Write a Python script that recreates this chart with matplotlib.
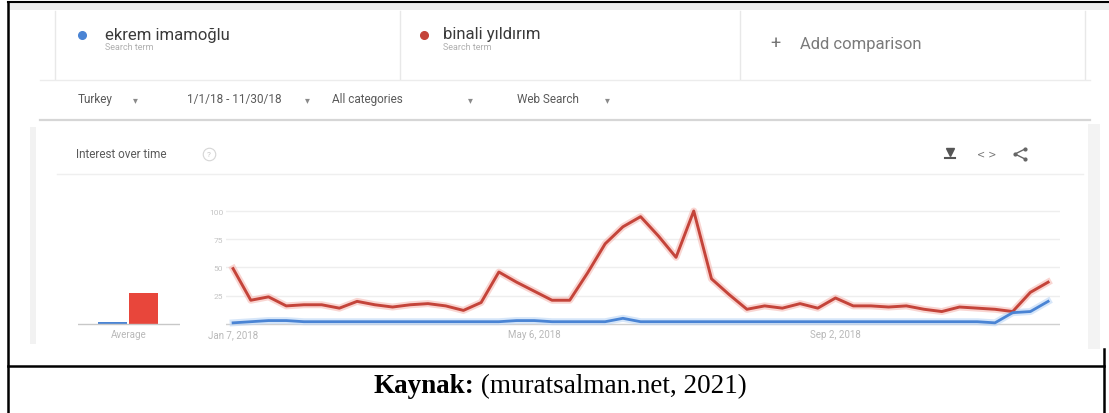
import matplotlib.pyplot as plt
import pandas as pd

# weekly Google Trends values, Turkey, 2018
weeks = pd.date_range("2018-01-07", periods=47, freq="7D")
binali = [49, 21, 24, 16, 17, 17, 14, 20, 17, 15, 17, 18, 16, 12, 19, 46,
          37, 29, 21, 21, 45, 71, 86, 95, 78, 59, 100, 40, 26, 13, 16, 14,
          18, 14, 23, 16, 16, 15, 16, 13, 11, 15, 14, 13, 11, 28, 37]
ekrem = [1, 2, 3, 3, 2, 2, 2, 2, 2, 2, 2, 2, 2, 2, 2, 2, 3, 3, 2, 2, 2, 2,
         5, 2, 2, 2, 2, 2, 2, 2, 2, 2, 2, 2, 2, 2, 2, 2, 2, 2, 2, 2, 2, 1,
         10, 11, 20]
avg_values = [2, 27]
terms = ["ekrem imamoğlu", "binali yıldırım"]
y_ticks = [25, 50, 75, 100]
date_ticks = pd.to_datetime(["2018-01-07", "2018-05-06", "2018-09-02"])
date_labels = ["Jan 7, 2018", "May 6, 2018", "Sep 2, 2018"]
filters = ["Turkey", "1/1/18 - 11/30/18", "All categories", "Web Search"]

RED = "#c4443a"
BLUE = "#4a84d4"

W, H = 1109, 414
fig = plt.figure(figsize=(W / 100, H / 100), dpi=100)
plt.rcParams["font.family"] = ["Roboto", "DejaVu Sans"]


def px_axes(x0, y0, x1, y1):
    return fig.add_axes([x0 / W, 1 - y1 / H, (x1 - x0) / W, (y1 - y0) / H])


bg = px_axes(0, 0, W, H)
bg.set_xlim(0, W)
bg.set_ylim(H, 0)
bg.axis("off")

# screenshot frame bits
bg.axhspan(3, 11, xmin=8 / W, xmax=1, color="#ededed", lw=0)
for x in [55, 400, 740, 1085]:
    bg.plot([x, x], [12, 80], color="#e8e8e8", lw=1)
bg.plot([40, 1090], [81, 81], color="#ececec", lw=1)
bg.plot([40, 1090], [121, 121], color="#d6d6d6", lw=1.6)
bg.axvspan(30, 36, ymin=1 - 345 / H, ymax=1 - 128 / H, color="#f2f2f2", lw=0)
bg.axvspan(1088, 1100, ymin=1 - 350 / H, ymax=1 - 125 / H, color="#f3f3f3", lw=0)
bg.plot([57, 1083], [175, 175], color="#efefef", lw=1)

# search term cards
bg.plot(82, 36, "o", ms=5.5, color=BLUE)
bg.text(105, 35, terms[0], fontsize=12, color="#3a3a3a", va="center")
bg.text(105, 48, "Search term", fontsize=6.5, color="#b0b0b0", va="center")
bg.plot(424, 36, "o", ms=5.5, color=RED)
bg.text(443, 35, terms[1], fontsize=12, color="#3a3a3a", va="center")
bg.text(443, 48, "Search term", fontsize=6.5, color="#b0b0b0", va="center")
bg.text(775, 44, "+", fontsize=13, color="#777777", ha="center", va="center")
bg.text(800, 44, "Add comparison", fontsize=12, color="#7a7a7a", va="center")

# filter row
for label, x, xa in zip(filters, [78, 187, 332, 517], [133, 305, 468, 605]):
    bg.text(x, 100, label, fontsize=8.5, color="#5a5a5a", va="center")
    bg.text(xa, 100, "▾", fontsize=7, color="#8a8a8a", va="center",
            family="DejaVu Sans")

# chart card header
bg.text(76, 155, "Interest over time", fontsize=8.5, color="#5a5a5a", va="center")
bg.plot(209, 155, "o", ms=9, mfc="none", mec="#d5d5d5", mew=0.8)
bg.text(209, 155, "?", fontsize=6, color="#c5c5c5", ha="center", va="center")
# download icon
bg.plot(950, 153, "v", ms=6, color="#555555")
bg.plot([945, 955], [159, 159], color="#555555", lw=1.5)
bg.text(987, 155, "< >", fontsize=7, color="#777777", ha="center", va="center",
        family="DejaVu Sans")
bg.plot([1025, 1015, 1025], [150, 155, 160], color="#666666", lw=1)
bg.plot([1025, 1015, 1025], [150, 155, 160], "o", ms=2, color="#666666")

# document table lines and caption
bg.plot([8, W], [3, 3], color="black", lw=1.5)
bg.plot([8, 8], [3, H], color="black", lw=1.8)
bg.plot([8, 1104], [367, 367], color="black", lw=1.8)
bg.plot([1104, 1104], [350, H], color="black", lw=1.8)
cap = bg.text(373, 393, "Kaynak:", fontsize=19.5, fontweight="bold",
              family="Liberation Serif", va="baseline")
bg.annotate(" (muratsalman.net, 2021)", xy=(1, 0), xycoords=cap,
            fontsize=19.5, family="Liberation Serif", va="bottom")

# main line chart
ax = px_axes(226, 205, 1060, 327)
ax.plot(weeks, binali, color="#f5b9b3", lw=5, alpha=0.6, solid_joinstyle="round")
ax.plot(weeks, ekrem, color="#bcd6f5", lw=5, alpha=0.6, solid_joinstyle="round",
        clip_on=False)
ax.plot(weeks, binali, color=RED, lw=2.1, solid_joinstyle="round")
ax.plot(weeks, ekrem, color=BLUE, lw=2.0, solid_joinstyle="round", clip_on=False)
ax.set_xlim(weeks[0] - pd.Timedelta(days=2.8), weeks[-1] + pd.Timedelta(days=4.7))
ax.set_ylim(-1.8, 106.2)
ax.set_yticks(y_ticks)
ax.set_yticklabels([str(v) for v in y_ticks], fontsize=6, color="#c4c4c4")
ax.set_xticks(date_ticks)
ax.set_xticklabels(date_labels, fontsize=7, color="#b8b8b8")
ax.tick_params(length=0, pad=2)
ax.grid(axis="y", color="#eeeeee", lw=1)
ax.axhline(0, color="#d0d0d0", lw=1, zorder=0)
for s in ax.spines.values():
    s.set_visible(False)
ax.set_facecolor("none")

# average bars
av = px_axes(78, 205, 180, 327)
av.bar([0, 1], avg_values, width=0.94, color=[BLUE, "#e8463b"])
av.axhline(0, color="#c8c8c8", lw=1)
av.set_xlim(-1.10, 2.19)
av.set_ylim(-1.8, 106.2)
av.set_yticks([])
av.set_xticks([0.52])
av.set_xticklabels(["Average"], fontsize=7, color="#b8b8b8")
av.tick_params(length=0, pad=2)
for s in av.spines.values():
    s.set_visible(False)
av.set_facecolor("none")

fig.savefig("out.png", dpi=100)
